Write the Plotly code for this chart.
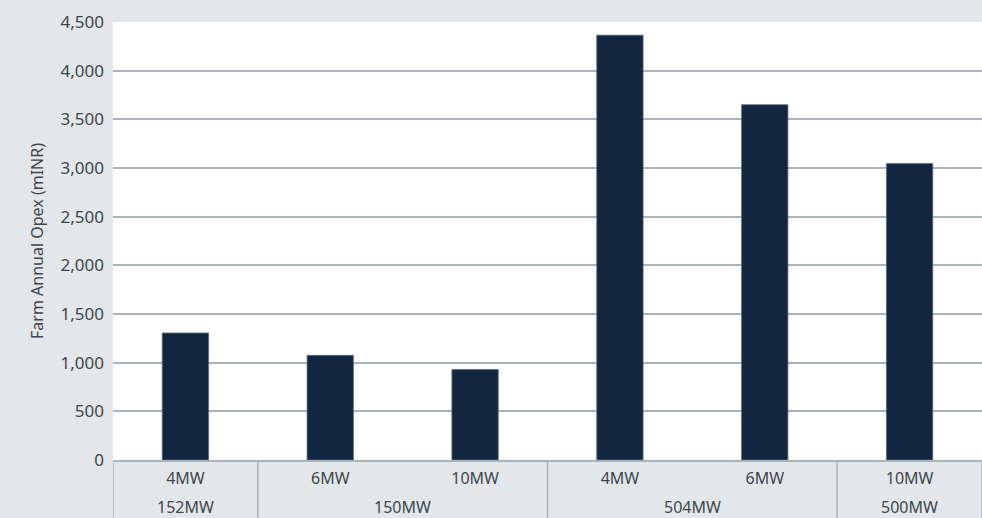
import plotly.graph_objects as go

farm_sizes = ["152MW", "150MW", "150MW", "504MW", "504MW", "500MW"]
turbine_sizes = ["4MW", "6MW", "10MW", "4MW", "6MW", "10MW"]
opex = [1305, 1075, 930, 4365, 3650, 3045]
y_ticks = [0, 500, 1000, 1500, 2000, 2500, 3000, 3500, 4000, 4500]

font_family = "'Noto Sans', 'Open Sans', sans-serif"
text_color = "#3e464c"
grid_color = "#a9b3ba"

positions = list(range(len(opex)))

fig = go.Figure(
    go.Bar(
        x=positions,
        y=opex,
        marker=dict(color="#12263f", line=dict(color="#5b6b7d", width=0.8)),
        width=0.32,
    )
)

# group farm sizes into consecutive runs
groups = []
for i, f in enumerate(farm_sizes):
    if groups and groups[-1][0] == f:
        groups[-1][2] = i
    else:
        groups.append([f, i, i])

shapes = []
annotations = []
for name, start, end in groups:
    annotations.append(dict(
        x=(start + end) / 2, xref="x", y=-0.107, yref="paper",
        text=name, showarrow=False, yanchor="middle",
        font=dict(size=16, color=text_color),
    ))
    shapes.append(dict(
        type="line", xref="x", yref="paper",
        x0=start - 0.5, x1=start - 0.5, y0=0, y1=-0.14,
        line=dict(color=grid_color, width=1.5),
    ))
shapes.append(dict(
    type="line", xref="x", yref="paper",
    x0=len(opex) - 0.5, x1=len(opex) - 0.5, y0=0, y1=-0.14,
    line=dict(color=grid_color, width=1.5),
))

fig.update_layout(
    width=982,
    height=518,
    margin=dict(l=113, r=0, t=22, b=58),
    paper_bgcolor="#e3e7ea",
    plot_bgcolor="#ffffff",
    font=dict(family=font_family, size=15, color=text_color),
    showlegend=False,
    shapes=shapes,
    annotations=annotations,
)

fig.update_xaxes(
    range=[-0.5, len(opex) - 0.5],
    tickvals=positions,
    ticktext=turbine_sizes,
    showline=True,
    linecolor=grid_color,
    linewidth=1.5,
    tickfont=dict(size=16, color=text_color),
    ticks="",
    ticklabelstandoff=3,
    showgrid=False,
    zeroline=False,
)

fig.update_yaxes(
    range=[0, 4500],
    tickvals=y_ticks,
    ticktext=[f"{v:,}" for v in y_ticks],
    showgrid=True,
    gridcolor=grid_color,
    gridwidth=1.5,
    zeroline=False,
    showline=False,
    ticks="",
    ticklabelstandoff=8,
    tickfont=dict(size=17, color=text_color),
    title=dict(text="Farm Annual Opex (mINR)", font=dict(size=16, color=text_color), standoff=12),
)

fig.write_html(
    "out.html",
    config=dict(displayModeBar=False),
    post_script="document.body.style.margin='0';document.body.style.overflow='hidden';",
)
